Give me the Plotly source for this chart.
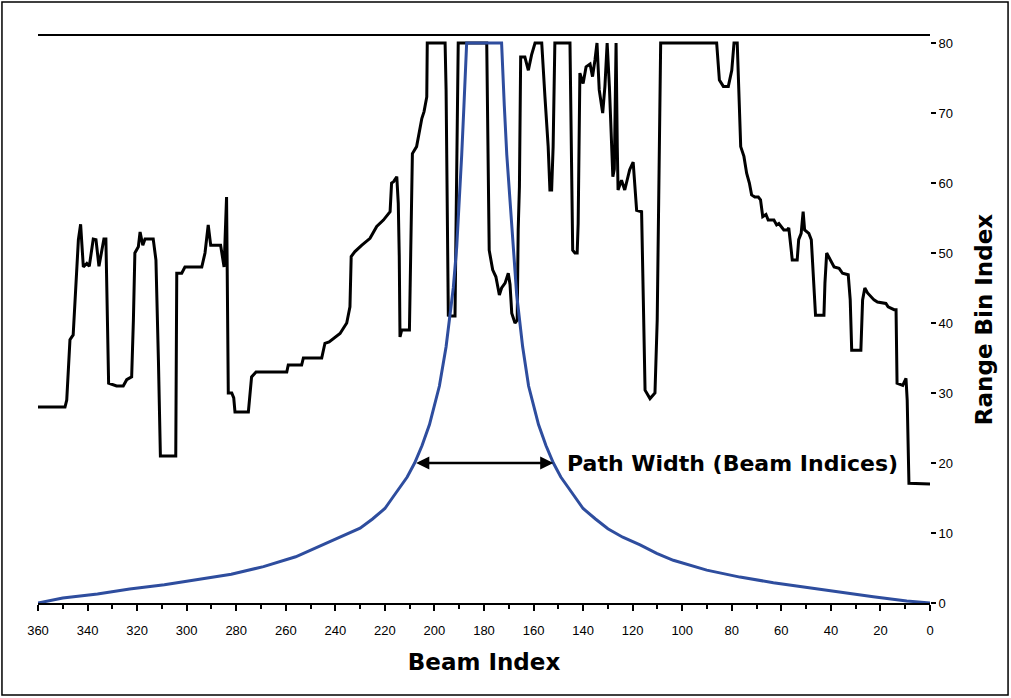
import plotly.graph_objects as go

# Black trace: range bin index vs beam index
beam_black = [360, 349.1, 348.4, 347.1, 345.8, 344.7, 343.7, 342.8, 341.7, 340.3, 339.3, 337.7, 336.6, 335.4,
              334.3, 333.4, 332.6, 332.0, 331.5, 328.3, 325.6, 324.2, 322.2, 321.5, 320.9, 319.5, 318.8, 317.7,
              316.8, 313.5, 312.4, 311.4, 310.8, 310.6, 304.4, 304.2, 304.0, 302.0, 300.7, 293.9, 292.6, 291.3,
              290.3, 286.3, 284.9, 283.9, 283.6, 283.2, 281.8, 281.0, 280.5, 275.1, 273.8, 272.0, 259.6, 259.0,
              253.6, 252.9, 245.5, 244.2, 242.5, 240.8, 238.1, 235.4, 234.1, 233.6, 232.1, 229.4, 226.0, 223.3,
              220.6, 217.9, 217.3, 216.5, 215.2, 214.6, 214.2, 213.9, 213.2, 210.1, 209.6, 208.9, 207.2, 205.1,
              204.2, 203.1, 202.9, 195.7, 195.3, 195.0, 194.8, 194.4, 193.0, 191.7, 191.3, 190.8, 190.4, 178.9,
              178.7, 178.3, 177.9, 176.5, 175.2, 173.8, 172.9, 171.5, 170.2, 169.5, 168.8, 167.5, 166.6, 166.2,
              165.7, 165.2, 163.5, 162.1, 160.8, 159.4, 156.7, 155.4, 154.1, 153.4, 152.7, 152.1, 151.4, 145.3,
              145.0, 144.2, 143.3, 142.4, 142.0, 141.3, 140.0, 138.8, 137.2, 136.2, 135.2, 134.4, 133.5, 132.1,
              131.2, 130.3, 129.4, 128.0, 127.4, 126.7, 126.2, 125.9, 124.5, 123.2, 121.2, 119.8, 118.4, 116.4,
              115.7, 115.0, 113.0, 111.0, 110.1, 109.7, 109.0, 108.7, 86.1, 85.0, 83.4, 81.4, 80.0, 79.1, 77.8,
              77.0, 76.4, 75.1, 74.0, 72.9, 72.0, 70.7, 69.3, 68.4, 67.5, 66.2, 65.3, 63.0, 61.9, 61.0, 59.0,
              57.6, 57.0, 56.0, 55.6, 53.6, 53.0, 52.0, 51.2, 50.6, 48.9, 47.9, 46.9, 46.2, 42.8, 42.4, 41.7,
              40.1, 38.7, 36.7, 35.3, 33.0, 32.2, 31.6, 27.9, 27.2, 26.3, 25.2, 22.6, 21.2, 17.8, 16.9, 14.5,
              13.7, 13.3, 11.0, 9.7, 9.2, 8.5, 0]
range_black = [28, 28, 29, 37.6, 38.3, 45.7, 51.9, 54.1, 48, 48.5, 48.1, 52, 51.9, 48.1,
               50, 52, 52, 42.3, 31.4, 31, 31, 31.9, 32.3, 40.4, 50, 50.9, 53, 51.1,
               52, 52, 49, 34.7, 24.2, 21, 21, 40.7, 47.1, 47.1, 48, 48, 50, 54,
               51.1, 51.1, 48, 58, 48, 30, 30, 29.3, 27.3, 27.3, 32.3, 33, 33, 34,
               34, 35, 35, 37.1, 37.3, 37.8, 38.5, 40, 42.3, 49.5, 50.2, 51.1, 52.1, 53.8,
               54.7, 55.9, 60, 60.2, 60.9, 57.1, 49.5, 38, 39, 39, 51.4, 64.2, 65.2, 69.2,
               70.2, 72.3, 80, 80, 73.3, 60.4, 47.6, 41.1, 41, 41, 53.3, 73.3, 80, 80,
               75.2, 66.6, 50.4, 47.6, 46.6, 44, 45, 45.7, 47.1, 45.5, 41.4, 40, 40.4, 53.3,
               59.5, 78, 78, 76.1, 78.3, 80, 80, 72.3, 65.2, 59, 59, 65.2, 80, 80,
               72.3, 50.4, 50, 50, 54.2, 75.7, 74.2, 76.6, 77, 75.2, 77.6, 80, 73.3, 70,
               73.8, 80, 73.8, 60.9, 62, 80, 65, 59, 60.4, 59, 61.9, 63, 56.1, 55.9,
               43.3, 30.4, 29.2, 30, 40.4, 54.7, 71.9, 80, 80, 74.7, 73.8, 73.8, 76.1, 80, 80,
               72.3, 65.2, 63.8, 61.4, 60, 58.3, 58, 58, 57.6, 55.2, 55.5, 54.7, 54.7, 54, 54.2, 53.3,
               53.3, 53.6, 50.4, 49, 49, 51.9, 52.8, 55.9, 53.3, 52.8, 51.9, 45.7, 41.1, 41.1, 45.7, 50,
               49, 48, 47.8, 47.1, 46.9, 43.3, 36.1, 36.1, 43.3, 45, 44.3, 43.3, 43, 42.8, 42.3, 41.9,
               41.9, 31.4, 31.1, 32.1, 29, 17.1, 17]

# Blue trace: path width curve
beam_blue = [360, 350, 336, 323, 309, 296, 282, 269, 256, 242, 236, 230, 225, 220, 217, 214, 211, 208, 205,
             202, 198, 195.3, 193.7, 192.4, 191.0, 190.0, 189.0, 188.1, 187.5, 187.0,
             172.9, 172.4, 171.8, 170.8, 169.5, 168.2, 166.8, 164.4, 162, 158, 155, 152, 149, 146, 143,
             140, 135, 130, 124, 117, 110.3, 103.6, 90.1, 76.7, 63.2, 49.8, 36.3, 22.9, 9.4, 0]
range_blue = [0, 0.7, 1.3, 2.0, 2.6, 3.3, 4.1, 5.2, 6.6, 8.8, 9.7, 10.7, 12, 13.5, 15, 16.5, 18, 20, 22.5,
              25.5, 31, 36.6, 40.8, 45, 50.9, 57, 64, 71, 75.5, 80,
              80, 75.5, 71, 64, 57, 50, 44, 36.6, 31, 25.5, 22.5, 20, 18, 16.5, 15,
              13.5, 12, 10.6, 9.4, 8.3, 7.1, 6.1, 4.7, 3.7, 2.9, 2.2, 1.5, 0.9, 0.3, 0]

x_ticks = list(range(0, 361, 20))
y_ticks = list(range(0, 81, 10))

# Path width arrow endpoints and label
arrow_left, arrow_right, arrow_level = 208, 152, 20
label_text = "Path Width (Beam Indices)"

FONT = "Liberation Sans, Arial, sans-serif"
TFONT = "DejaVu Sans, sans-serif"
TICKFONT = "Liberation Sans Narrow, Liberation Sans, Arial, sans-serif"

fig = go.Figure()
fig.add_trace(go.Scatter(x=beam_black, y=range_black, mode="lines",
                         line=dict(color="black", width=3), showlegend=False))
fig.add_trace(go.Scatter(x=beam_blue, y=range_blue, mode="lines",
                         line=dict(color="#2E4D9E", width=3), showlegend=False))

fig.add_annotation(x=arrow_right, y=arrow_level, ax=arrow_left, ay=arrow_level,
                   xref="x", yref="y", axref="x", ayref="y", text="",
                   showarrow=True, arrowhead=2, arrowside="end+start",
                   arrowsize=1.1, arrowwidth=2.4, arrowcolor="black")
fig.add_annotation(x=147.5, y=arrow_level, xref="x", yref="y", text="<b>" + label_text + "</b>",
                   showarrow=False, xanchor="left", yanchor="middle",
                   font=dict(family=TFONT, size=22, color="black"))

fig.update_layout(
    width=1011, height=698,
    margin=dict(l=38, r=81, t=36, b=95),
    paper_bgcolor="white", plot_bgcolor="white",
    font=dict(family=FONT, color="black", size=12),
    shapes=[dict(type="rect", xref="paper", yref="paper",
                 x0=-0.0404, x1=1.0875, y0=-0.1623, y1=1.0600,
                 line=dict(color="black", width=1.5), fillcolor="rgba(0,0,0,0)", layer="below")],
)
fig.update_xaxes(
    range=[360, 0], tickvals=x_ticks, ticktext=[str(v) for v in x_ticks],
    showgrid=False, zeroline=False,
    showline=True, mirror=True, linecolor="black", linewidth=2,
    ticks="outside", ticklen=6, tickwidth=1.5, tickcolor="black",
    minor=dict(ticks="outside", ticklen=4, tickwidth=1.5, tickcolor="black", dtick=10, tick0=0),
    tickfont=dict(family=TICKFONT, size=13, color="black"),
    ticklabelstandoff=8,
    title=dict(text="<b>Beam Index</b>", font=dict(family=TFONT, size=23, color="black"), standoff=17),
)
fig.update_yaxes(
    range=[0, 81], side="right", tickvals=y_ticks,
    showgrid=False, zeroline=False, showline=False,
    ticks="outside", ticklen=5, tickwidth=1.5, tickcolor="black",
    tickfont=dict(family=TICKFONT, size=13, color="black"),
    title=dict(text="<b>Range Bin Index</b>", font=dict(family=TFONT, size=23, color="black"), standoff=23),
)

fig.write_html("out.html", config={"displayModeBar": False},
               post_script="document.body.style.margin='0';document.body.style.padding='0';")
